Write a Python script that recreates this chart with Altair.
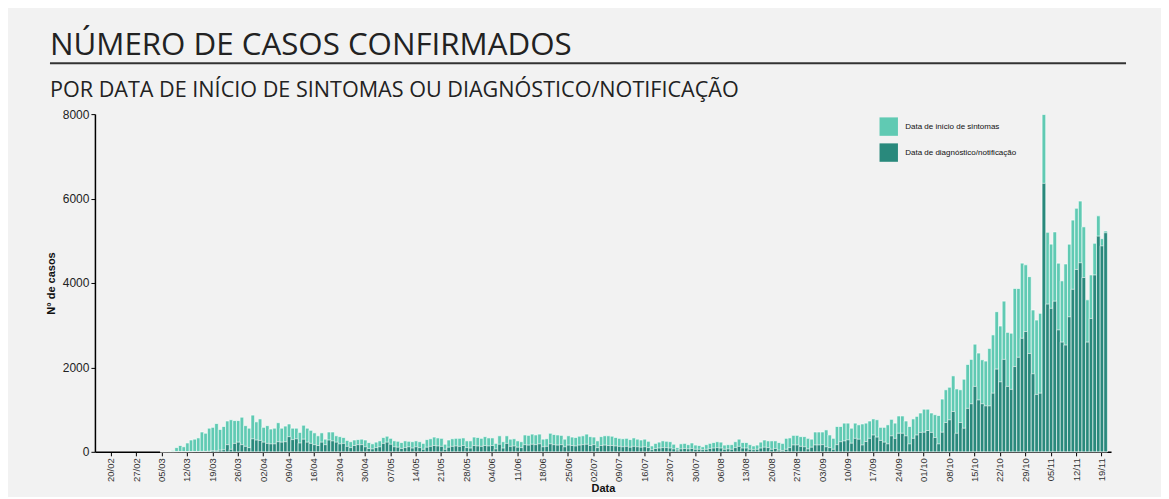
import altair as alt
import pandas as pd

title_text = "NÚMERO DE CASOS CONFIRMADOS"
subtitle_text = "POR DATA DE INÍCIO DE SINTOMAS OU DIAGNÓSTICO/NOTIFICAÇÃO"
series_names = ["Data de início de sintomas", "Data de diagnóstico/notificação"]
series_colors = ["#60cab3", "#29897c"]
y_ticks = [0, 2000, 4000, 6000, 8000]

first_day = "2020-03-05"

# total bar height (all cases) per day
total_mar = [5, 10, 20, 30, 100, 150, 120, 210, 280, 300, 330, 470, 440, 560, 580, 670, 530, 600, 730, 760,
             740, 740, 820, 620, 560, 870, 710]
total_apr = [780, 580, 620, 540, 560, 690, 560, 610, 660, 560, 560, 460, 630, 560, 510, 450, 380, 450, 300, 470,
             470, 380, 360, 340, 270, 240, 280, 290, 300, 280]
total_may = [220, 190, 230, 260, 340, 370, 320, 260, 250, 220, 260, 250, 240, 260, 240, 200, 290, 310, 350, 330,
             320, 180, 280, 310, 320, 320, 330, 260, 260, 350, 340]
total_jun = [320, 360, 330, 330, 200, 380, 240, 380, 300, 310, 260, 240, 400, 390, 420, 400, 420, 300, 310, 440,
             410, 400, 390, 300, 380, 350, 340, 370, 380, 420]
total_jul = [360, 350, 260, 360, 380, 380, 370, 340, 320, 310, 320, 290, 330, 300, 280, 300, 250, 140, 200, 230,
             260, 250, 240, 180, 100, 190, 200, 170, 210, 160, 150]
total_aug = [120, 170, 200, 220, 240, 230, 160, 170, 170, 240, 300, 220, 220, 170, 140, 160, 230, 280, 260, 260,
             260, 220, 200, 320, 330, 390, 390, 360, 360, 320, 300]
total_sep = [470, 470, 470, 520, 400, 320, 600, 600, 680, 680, 560, 680, 640, 660, 680, 730, 780, 760, 580, 580,
             640, 770, 680, 850, 850, 730, 600, 780, 840, 920]
total_oct = [1010, 1010, 920, 880, 860, 1250, 1470, 1530, 1800, 1490, 1470, 1720, 2070, 2190, 2550, 2340, 2180,
             2150, 2450, 2770, 3320, 2980, 3570, 2830, 2810, 3870, 3870, 4470, 4430, 4150, 3360]
total_nov = [3120, 3280, 7990, 5200, 4920, 5210, 4470, 4050, 4450, 4920, 5490, 5770, 5940, 5330, 3600, 4190,
             4940, 5590, 5050, 5230]

# dark part: cases by date of diagnosis/notification
diag_mar = [0, 0, 0, 0, 2, 3, 3, 5, 5, 8, 8, 10, 10, 15, 30, 20, 40, 50, 170, 60, 200, 230, 170, 130, 100, 310, 280]
diag_apr = [270, 230, 200, 190, 190, 240, 230, 240, 360, 290, 310, 210, 300, 230, 200, 170, 150, 230, 170, 280,
            260, 230, 190, 200, 130, 100, 150, 170, 170, 120]
diag_may = [80, 70, 100, 120, 200, 230, 180, 120, 110, 80, 100, 120, 90, 120, 100, 60, 110, 130, 150, 140,
            130, 60, 110, 130, 140, 130, 150, 100, 90, 150, 140]
diag_jun = [130, 150, 140, 150, 70, 180, 90, 200, 130, 140, 110, 100, 170, 160, 180, 170, 190, 120, 130, 190,
            170, 160, 170, 120, 160, 150, 140, 160, 170, 180]
diag_jul = [150, 170, 100, 150, 160, 150, 150, 140, 130, 120, 130, 110, 130, 120, 110, 120, 100, 50, 80, 90,
            100, 100, 90, 70, 40, 70, 80, 70, 80, 60, 60]
diag_aug = [50, 60, 80, 90, 100, 90, 60, 70, 60, 100, 130, 90, 90, 60, 50, 60, 90, 110, 100, 60,
            80, 40, 30, 60, 100, 165, 165, 130, 120, 70, 110]
diag_sep = [165, 165, 170, 120, 100, 60, 170, 240, 260, 285, 205, 320, 300, 165, 245, 320, 400, 350, 270, 230,
            190, 380, 320, 440, 440, 380, 190, 320, 400, 460]
diag_oct = [465, 505, 460, 340, 190, 465, 695, 760, 955, 440, 695, 560, 1030, 1140, 1550, 1230, 1140, 1090, 1090,
            1390, 1960, 1660, 2190, 1550, 1480, 2020, 2240, 2690, 2850, 2330, 1850]
diag_nov = [1360, 1390, 6360, 3500, 3400, 3570, 2890, 2600, 2530, 3200, 3850, 4320, 4480, 4130, 2600, 3160,
            4190, 5110, 4880, 5190]

total = total_mar + total_apr + total_may + total_jun + total_jul + total_aug + total_sep + total_oct + total_nov
diag = diag_mar + diag_apr + diag_may + diag_jun + diag_jul + diag_aug + diag_sep + diag_oct + diag_nov

dates = pd.date_range(first_day, periods=len(total), freq="D")
labels = dates.strftime("%d/%m").tolist()
domain = pd.date_range("2020-02-16", "2020-11-21", freq="D").strftime("%d/%m").tolist()
tick_values = pd.date_range("2020-02-20", "2020-11-19", freq="7D").strftime("%d/%m").tolist()

df = pd.DataFrame({"data": labels, "total": total, "diag": diag})

W, H = 1017, 338

x_enc = alt.X(
    "data:O",
    scale=alt.Scale(domain=domain, paddingInner=0.0, paddingOuter=0),
    axis=alt.Axis(values=tick_values, labelAngle=-90, title="Data", labelFontSize=9.5,
                  labelPadding=2, tickSize=4, titleFontSize=11, titleFontWeight="bold",
                  titlePadding=1, labelColor="#333333", titleColor="#111111"),
)
y_scale = alt.Scale(domain=[0, 8000], nice=False)
y_axis = alt.Axis(values=y_ticks, format="d", title="N° de casos", labelFontSize=12, tickSize=4,
                  labelPadding=2, titleFontSize=11, titleFontWeight="bold", titlePadding=6,
                  labelColor="#222222", titleColor="#111111")

color_scale = alt.Scale(domain=series_names, range=series_colors)
legend = alt.Legend(title=None, orient="none", legendX=785, legendY=3, symbolType="square",
                    symbolSize=340, symbolStrokeWidth=0, symbolOpacity=1, labelFontSize=8,
                    labelFont="Liberation Sans", labelColor="#111111", rowPadding=7, padding=0,
                    labelOffset=7)

light = alt.Chart(df).mark_bar(stroke="white", strokeWidth=0.6).transform_calculate(
    serie="'" + series_names[0] + "'"
).encode(
    x=x_enc,
    y=alt.Y("total:Q", scale=y_scale, axis=y_axis),
    color=alt.Color("serie:N", scale=color_scale, legend=legend),
)
dark = alt.Chart(df).mark_bar(stroke="white", strokeWidth=0.6).transform_calculate(
    serie="'" + series_names[1] + "'"
).encode(
    x=x_enc,
    y=alt.Y("diag:Q", scale=y_scale, axis=y_axis),
    color=alt.Color("serie:N", scale=color_scale, legend=legend),
)

one = pd.DataFrame({"t": [title_text], "s": [subtitle_text]})
title_mark = alt.Chart(one).mark_text(
    align="left", baseline="alphabetic", font="Open Sans", fontSize=31.3, color="#222222"
).encode(text="t:N", x=alt.value(-45), y=alt.value(-59))
subtitle_mark = alt.Chart(one).mark_text(
    align="left", baseline="alphabetic", font="Open Sans", fontSize=21.6, color="#222222"
).encode(text="s:N", x=alt.value(-45), y=alt.value(-17))
rule_mark = alt.Chart(one).mark_rule(color="#333333", strokeWidth=2).encode(
    x=alt.value(-45), x2=alt.value(1032), y=alt.value(-51)
)

chart = alt.layer(light, dark, title_mark, subtitle_mark, rule_mark).properties(
    width=W, height=H,
    autosize=alt.AutoSizeParams(type="none"),
    padding={"left": 87, "top": 106, "right": 50, "bottom": 45},
    background="#f2f2f2",
).configure_view(stroke=None).configure_axis(
    grid=False, domainColor="#000000", domainWidth=1.5, tickColor="#000000",
    labelFont="Liberation Sans", titleFont="Liberation Sans",
)

chart.save("out.html", embed_options={"renderer": "svg", "actions": False})
